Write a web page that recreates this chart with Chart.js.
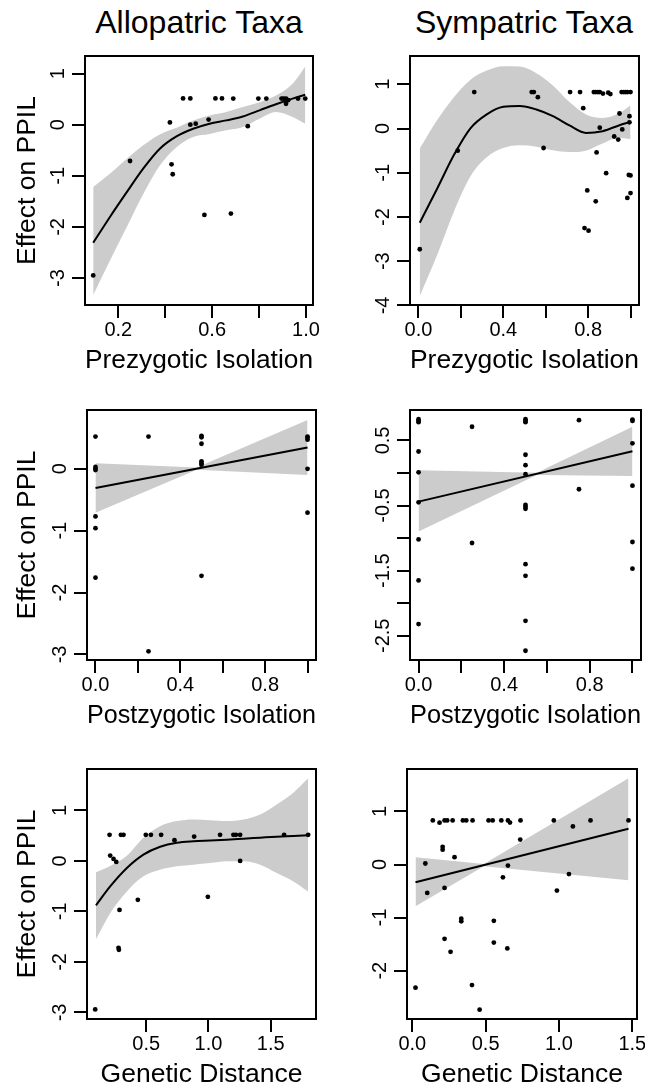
<!DOCTYPE html>
<html>
<head>
<meta charset="utf-8">
<script src="https://cdn.jsdelivr.net/npm/chart.js@4.4.1/dist/chart.umd.min.js"></script>
<style>
  html, body { margin: 0; padding: 0; background: #fff; }
  #wrap { position: relative; width: 645px; height: 1091px; overflow: hidden; background: #fff;
          font-family: "Liberation Sans", Arial, Helvetica, sans-serif; }
  #wrap canvas { position: absolute; }
  .coltitle { position: absolute; width: 320px; text-align: center; font-size: 32px; line-height: 32px; color: #000; white-space: nowrap; }
</style>
</head>
<body>
<div id="wrap">
  <div class="coltitle" style="left:39px; top:6px;">Allopatric Taxa</div>
  <div class="coltitle" style="left:364px; top:6px;">Sympatric Taxa</div>
</div>
<script>
// ---------------- DATA ----------------
// Allopatric taxa, prezygotic isolation
const allo_pre_x = [0.093, 0.25, 0.42, 0.427, 0.432, 0.476, 0.507, 0.507, 0.53, 0.567, 0.585, 0.614, 0.642, 0.68, 0.69, 0.752, 0.797, 0.831, 0.896, 0.905, 0.915, 0.915, 0.924, 0.966, 0.997];
const allo_pre_y = [-2.95, -0.71, 0.045, -0.775, -0.97, 0.514, 0.514, 0.0, 0.02, -1.765, 0.1, 0.514, 0.514, -1.74, 0.51, -0.03, 0.51, 0.51, 0.51, 0.51, 0.51, 0.41, 0.48, 0.51, 0.51];
const allo_pre_fit_x = [0.093, 0.165, 0.236, 0.306, 0.377, 0.448, 0.519, 0.589, 0.66, 0.731, 0.802, 0.872, 0.943, 0.997];
const allo_pre_fit_y = [-2.31, -1.80, -1.32, -0.86, -0.47, -0.23, -0.08, 0.02, 0.084, 0.16, 0.28, 0.40, 0.51, 0.585];
const allo_pre_hi    = [-1.22, -0.957, -0.664, -0.404, -0.19, -0.06, 0.084, 0.18, 0.247, 0.344, 0.44, 0.57, 0.80, 1.14];
const allo_pre_lo    = [-3.33, -2.65, -2.0, -1.36, -0.80, -0.44, -0.24, -0.18, -0.11, -0.046, 0.117, 0.247, 0.15, 0.02];

// Sympatric taxa, prezygotic isolation
const symp_pre_x = [0.006, 0.185, 0.263, 0.534, 0.544, 0.563, 0.59, 0.715, 0.762, 0.777, 0.783, 0.802, 0.796, 0.827, 0.836, 0.846, 0.855, 0.87, 0.895, 0.905, 0.855, 0.84, 0.836, 0.885, 0.923, 0.942, 0.948, 0.961, 0.958, 0.968, 0.977, 0.986, 1.0, 0.995, 0.995, 0.992, 1.0, 1.0, 0.985];
const symp_pre_y = [-2.73, -0.50, 0.825, 0.825, 0.825, 0.71, -0.44, 0.825, 0.825, 0.46, -2.25, -2.31, -1.40, 0.825, 0.825, 0.825, 0.825, 0.79, 0.81, 0.78, 0.02, -0.54, -1.645, -1.01, -0.18, -0.25, 0.34, -0.02, 0.825, 0.825, 0.825, 0.825, 0.825, 0.28, 0.14, -1.05, -1.06, -1.46, -1.57];
const symp_pre_fit_x = [0.006, 0.089, 0.167, 0.244, 0.322, 0.4, 0.478, 0.556, 0.634, 0.712, 0.79, 0.868, 0.945, 1.0];
const symp_pre_fit_y = [-2.13, -1.35, -0.60, 0.0, 0.32, 0.49, 0.51, 0.43, 0.28, 0.07, -0.10, -0.06, 0.07, 0.15];
const symp_pre_hi    = [-0.45, 0.20, 0.71, 1.10, 1.31, 1.41, 1.40, 1.25, 0.975, 0.60, 0.32, 0.24, 0.34, 0.52];
const symp_pre_lo    = [-3.79, -2.85, -1.88, -1.09, -0.65, -0.44, -0.38, -0.41, -0.49, -0.53, -0.50, -0.34, -0.21, -0.24];

// Allopatric taxa, postzygotic isolation
const allo_post_x = [0, 0, 0, 0, 0, 0, 0, 0.25, 0.25, 0.5, 0.5, 0.5, 0.5, 0.5, 0.5, 0.5, 1, 1, 1, 1, 1];
const allo_post_y = [0.52, 0.03, 0.0, -0.02, -0.77, -0.96, -1.76, 0.52, -2.95, 0.53, 0.51, 0.405, 0.12, 0.09, 0.065, -1.73, 0.52, 0.50, 0.47, 0.0, -0.71];
const allo_post_fit_x = [0, 1];
const allo_post_fit_y = [-0.31, 0.345];
const allo_post_band_x = [0, 0.477, 1];
const allo_post_hi = [0.09, 0.02, 0.79];
const allo_post_lo = [-0.71, -0.015, -0.10];

// Sympatric taxa, postzygotic isolation
const symp_post_x = [0, 0, 0, 0, 0, 0, 0, 0, 0, 0.25, 0.25, 0.5, 0.5, 0.5, 0.5, 0.5, 0.5, 0.5, 0.5, 0.5, 0.5, 0.5, 0.5, 0.5, 0.75, 0.75, 1, 1, 1, 1, 1, 1];
const symp_post_y = [0.825, 0.80, 0.78, 0.33, 0.01, -0.45, -1.02, -1.65, -2.32, 0.71, -1.075, 0.825, 0.80, 0.78, 0.28, 0.12, -0.02, -0.49, -0.52, -0.55, -1.40, -1.58, -2.27, -2.73, 0.81, -0.25, 0.82, 0.80, 0.455, -0.195, -1.06, -1.47];
const symp_post_fit_x = [0, 1];
const symp_post_fit_y = [-0.44, 0.333];
const symp_post_band_x = [0, 0.553, 1];
const symp_post_hi = [0.04, 0.005, 0.71];
const symp_post_lo = [-0.90, -0.03, -0.046];

// Allopatric taxa, genetic distance
const allo_gd_x = [0.206, 0.297, 0.318, 0.497, 0.538, 0.62, 0.727, 0.885, 1.093, 1.2, 1.22, 1.254, 1.254, 1.607, 1.80, 0.211, 0.238, 0.26, 0.433, 0.286, 0.995, 0.278, 0.281, 0.091];
const allo_gd_y = [0.517, 0.517, 0.517, 0.517, 0.517, 0.517, 0.41, 0.483, 0.517, 0.517, 0.517, 0.517, 0.0, 0.517, 0.517, 0.105, 0.04, -0.02, -0.77, -0.97, -0.71, -1.72, -1.76, -2.94];
const allo_gd_fit_x = [0.097, 0.211, 0.345, 0.478, 0.612, 0.746, 0.879, 1.013, 1.147, 1.28, 1.414, 1.548, 1.681, 1.799];
const allo_gd_fit_y = [-0.88, -0.505, -0.14, 0.125, 0.28, 0.36, 0.39, 0.405, 0.42, 0.44, 0.46, 0.48, 0.495, 0.51];
const allo_gd_hi    = [-0.226, -0.10, 0.10, 0.457, 0.688, 0.788, 0.82, 0.807, 0.788, 0.82, 0.92, 1.119, 1.351, 1.63];
const allo_gd_lo    = [-1.545, -1.034, -0.604, -0.306, -0.174, -0.107, -0.074, -0.041, -0.008, -0.008, -0.074, -0.24, -0.406, -0.604];

// Sympatric taxa, genetic distance
const symp_gd_x = [0.022, 0.089, 0.102, 0.14, 0.186, 0.22, 0.238, 0.275, 0.207, 0.207, 0.22, 0.288, 0.22, 0.261, 0.334, 0.334, 0.345, 0.368, 0.411, 0.407, 0.52, 0.548, 0.607, 0.652, 0.666, 0.738, 0.556, 0.556, 0.618, 0.648, 0.652, 0.736, 0.965, 0.986, 1.068, 1.095, 1.215, 1.474, 0.459];
const symp_gd_y = [-2.32, 0.02, -0.535, 0.832, 0.788, 0.832, 0.832, 0.832, 0.334, 0.28, -0.44, 0.138, -1.40, -1.645, -1.02, -1.07, 0.832, 0.832, 0.832, -2.27, 0.832, 0.832, 0.832, 0.832, 0.79, 0.832, -1.06, -1.47, -0.24, -1.58, -0.02, 0.47, 0.832, -0.49, -0.18, 0.718, 0.832, 0.832, -2.735];
const symp_gd_fit_x = [0.022, 1.474];
const symp_gd_fit_y = [-0.334, 0.675];
const symp_gd_band_x = [0.022, 0.488, 1.474];
const symp_gd_hi = [0.138, 0.01, 1.626];
const symp_gd_lo = [-0.788, -0.03, -0.297];

// Tick values and labels
const xTicksPreAllo = [0.2, 0.4, 0.6, 0.8, 1.0];
const xLabelsPreAllo = ['0.2', '', '0.6', '', '1.0'];
const xTicksUnit = [0, 0.2, 0.4, 0.6, 0.8, 1.0];
const xLabelsUnit = ['0.0', '', '0.4', '', '0.8', ''];
const xTicksGdAllo = [0.5, 1.0, 1.5];
const xLabelsGdAllo = ['0.5', '1.0', '1.5'];
const xTicksGdSymp = [0, 0.5, 1.0, 1.5];
const xLabelsGdSymp = ['0.0', '0.5', '1.0', '1.5'];
const yTicksAlloPre = [-3, -2, -1, 0, 1];
const yLabelsAlloPre = ['-3', '-2', '-1', '0', '1'];
const yTicksSympPre = [-4, -3, -2, -1, 0, 1];
const yLabelsSympPre = ['-4', '-3', '-2', '-1', '0', '1'];
const yTicksAlloPost = [-3, -2, -1, 0];
const yLabelsAlloPost = ['-3', '-2', '-1', '0'];
const yTicksSympPost = [-2.5, -2, -1.5, -1, -0.5, 0, 0.5];
const yLabelsSympPost = ['-2.5', '', '-1.5', '', '-0.5', '', '0.5'];
const yTicksAlloGd = [-3, -2, -1, 0, 1];
const yLabelsAlloGd = ['-3', '-2', '-1', '0', '1'];
const yTicksSympGd = [-2, -1, 0, 1];
const yLabelsSympGd = ['-2', '-1', '0', '1'];

const yTitle = 'Effect on PPIL';
const xTitles = ['Prezygotic Isolation', 'Postzygotic Isolation', 'Genetic Distance'];

// ---------------- LAYOUT ----------------
const FAMILY = '"Liberation Sans", Arial, Helvetica, sans-serif';
const TICK_FONT = 20, AXIS_TITLE_FONT = 26.5;
const W = 85, PT = 25, PR = 25, H = 75, TL = 13;
const Y_LABEL_BASE = 21;     // box edge -> rotated tick label baseline
const Y_TITLE_CX = 28;       // absolute x of y title centre
const X_TITLE_OFF = 56;      // box bottom -> x title centre
const X_LABEL_PAD = 0.5;
const GREY = 'rgb(204,204,204)';

const panels = [
  { box: [85, 56, 313, 305], xr: [0.058, 1.03], yr: [-3.528, 1.344],
    xt: xTicksPreAllo, xl: xLabelsPreAllo, yt: yTicksAlloPre, yl: yLabelsAlloPre,
    xTitle: xTitles[0], yTitle: yTitle, smooth: true,
    px: allo_pre_x, py: allo_pre_y, fx: allo_pre_fit_x, fy: allo_pre_fit_y, bx: allo_pre_fit_x, bhi: allo_pre_hi, blo: allo_pre_lo },
  { box: [410, 56, 639, 305], xr: [-0.04, 1.04], yr: [-3.99, 1.64],
    xt: xTicksUnit, xl: xLabelsUnit, yt: yTicksSympPre, yl: yLabelsSympPre,
    xTitle: xTitles[0], yTitle: null, smooth: true,
    px: symp_pre_x, py: symp_pre_y, fx: symp_pre_fit_x, fy: symp_pre_fit_y, bx: symp_pre_fit_x, bhi: symp_pre_hi, blo: symp_pre_lo },
  { box: [87, 410, 316, 660], xr: [-0.04, 1.04], yr: [-3.09, 0.95],
    xt: xTicksUnit, xl: xLabelsUnit, yt: yTicksAlloPost, yl: yLabelsAlloPost,
    xTitle: xTitles[1], yTitle: yTitle, smooth: false,
    px: allo_post_x, py: allo_post_y, fx: allo_post_fit_x, fy: allo_post_fit_y, bx: allo_post_band_x, bhi: allo_post_hi, blo: allo_post_lo },
  { box: [410, 410, 641, 660], xr: [-0.04, 1.04], yr: [-2.872, 0.967],
    xt: xTicksUnit, xl: xLabelsUnit, yt: yTicksSympPost, yl: yLabelsSympPost,
    xTitle: xTitles[1], yTitle: null, smooth: false,
    px: symp_post_x, py: symp_post_y, fx: symp_post_fit_x, fy: symp_post_fit_y, bx: symp_post_band_x, bhi: symp_post_hi, blo: symp_post_lo },
  { box: [87, 769, 316, 1019], xr: [0.025, 1.863], yr: [-3.13, 1.82],
    xt: xTicksGdAllo, xl: xLabelsGdAllo, yt: yTicksAlloGd, yl: yLabelsAlloGd,
    xTitle: xTitles[2], yTitle: yTitle, smooth: true,
    px: allo_gd_x, py: allo_gd_y, fx: allo_gd_fit_x, fy: allo_gd_fit_y, bx: allo_gd_fit_x, bhi: allo_gd_hi, blo: allo_gd_lo },
  { box: [407, 769, 637, 1019], xr: [-0.036, 1.532], yr: [-2.91, 1.80],
    xt: xTicksGdSymp, xl: xLabelsGdSymp, yt: yTicksSympGd, yl: yLabelsSympGd,
    xTitle: xTitles[2], yTitle: null, smooth: false,
    px: symp_gd_x, py: symp_gd_y, fx: symp_gd_fit_x, fy: symp_gd_fit_y, bx: symp_gd_band_x, bhi: symp_gd_hi, blo: symp_gd_lo }
];

const zip = (xs, ys) => xs.map((x, i) => ({ x: x, y: ys[i] }));

// frame around the plotting region (R's box())
const boxPlugin = {
  id: 'rbox',
  afterDatasetsDraw(chart) {
    const a = chart.chartArea, ctx = chart.ctx;
    ctx.save();
    ctx.strokeStyle = '#000';
    ctx.lineWidth = 2;
    ctx.strokeRect(a.left, a.top, a.right - a.left, a.bottom - a.top);
    ctx.restore();
  }
};

// y tick labels written parallel to the axis (R's las = 0), placed from the y scale
function makeYLabelPlugin(labels) {
  return {
    id: 'ylabels',
    afterDraw(chart) {
      const s = chart.scales.y, ctx = chart.ctx;
      ctx.save();
      ctx.fillStyle = '#000';
      ctx.font = TICK_FONT + 'px ' + FAMILY;
      ctx.textAlign = 'center';
      ctx.textBaseline = 'alphabetic';
      s.ticks.forEach((t, i) => {
        const lab = labels[i];
        if (!lab) return;
        ctx.save();
        ctx.translate(chart.chartArea.left - Y_LABEL_BASE, s.getPixelForValue(t.value));
        ctx.rotate(-Math.PI / 2);
        ctx.fillText(lab, 0, 0);
        ctx.restore();
      });
      ctx.restore();
    }
  };
}

Chart.defaults.font.family = FAMILY;
Chart.defaults.color = '#000';

const wrap = document.getElementById('wrap');

panels.forEach(p => {
  const [L, T, R, B] = p.box;
  const cw = (R - L) + W + PR, ch = (B - T) + PT + H;
  const cv = document.createElement('canvas');
  cv.width = cw; cv.height = ch;
  cv.style.left = (L - W) + 'px';
  cv.style.top = (T - PT) + 'px';
  cv.style.width = cw + 'px';
  cv.style.height = ch + 'px';
  wrap.appendChild(cv);

  const lhTitle = AXIS_TITLE_FONT * 1.2;
  const yTitlePad = Y_TITLE_CX - (L - W) - lhTitle / 2;
  const xTitlePad = H - X_TITLE_OFF - lhTitle / 2;
  const curve = p.smooth ? { cubicInterpolationMode: 'monotone' } : { tension: 0 };

  const datasets = [
    { data: zip(p.px, p.py), showLine: false, pointRadius: 2.4, pointBackgroundColor: '#000', pointBorderWidth: 0, pointBorderColor: '#000' },
    Object.assign({ data: zip(p.fx, p.fy), borderColor: '#000', borderWidth: 2, pointRadius: 0, fill: false }, curve),
    Object.assign({ data: zip(p.bx, p.bhi), borderColor: 'rgba(0,0,0,0)', borderWidth: 0, pointRadius: 0, fill: '+1', backgroundColor: GREY }, curve),
    Object.assign({ data: zip(p.bx, p.blo), borderColor: 'rgba(0,0,0,0)', borderWidth: 0, pointRadius: 0, fill: false }, curve)
  ];

  const gridOpts = { drawOnChartArea: false, drawTicks: true, tickLength: TL, lineWidth: 2, tickWidth: 2, color: '#000', tickColor: '#000' };

  new Chart(cv, {
    type: 'line',
    data: { datasets: datasets },
    options: {
      responsive: false, animation: false, devicePixelRatio: 1, events: [],
      layout: { padding: { left: 0, top: PT, right: PR, bottom: 0 } },
      plugins: { legend: { display: false }, tooltip: { enabled: false }, title: { display: false } },
      scales: {
        x: {
          type: 'linear', position: 'bottom', min: p.xr[0], max: p.xr[1],
          afterBuildTicks: s => { s.ticks = p.xt.map(v => ({ value: v })); },
          afterFit: s => { s.height = H; },
          grid: gridOpts, border: { display: false },
          ticks: { autoSkip: false, minRotation: 0, maxRotation: 0, padding: X_LABEL_PAD, color: '#000',
                   font: { family: FAMILY, size: TICK_FONT }, callback: (v, i) => p.xl[i] },
          title: { display: true, text: p.xTitle, color: '#000', font: { family: FAMILY, size: AXIS_TITLE_FONT },
                   padding: { top: 0, bottom: xTitlePad } }
        },
        y: {
          type: 'linear', position: 'left', min: p.yr[0], max: p.yr[1],
          afterBuildTicks: s => { s.ticks = p.yt.map(v => ({ value: v })); },
          afterFit: s => { s.width = W; },
          grid: gridOpts, border: { display: false },
          ticks: { display: false, autoSkip: false, callback: (v, i) => p.yl[i] },
          title: { display: !!p.yTitle, text: p.yTitle || '', color: '#000', font: { family: FAMILY, size: AXIS_TITLE_FONT },
                   padding: { top: yTitlePad, bottom: 0 } }
        }
      }
    },
    plugins: [boxPlugin, makeYLabelPlugin(p.yl)]
  });
});
</script>
</body>
</html>
